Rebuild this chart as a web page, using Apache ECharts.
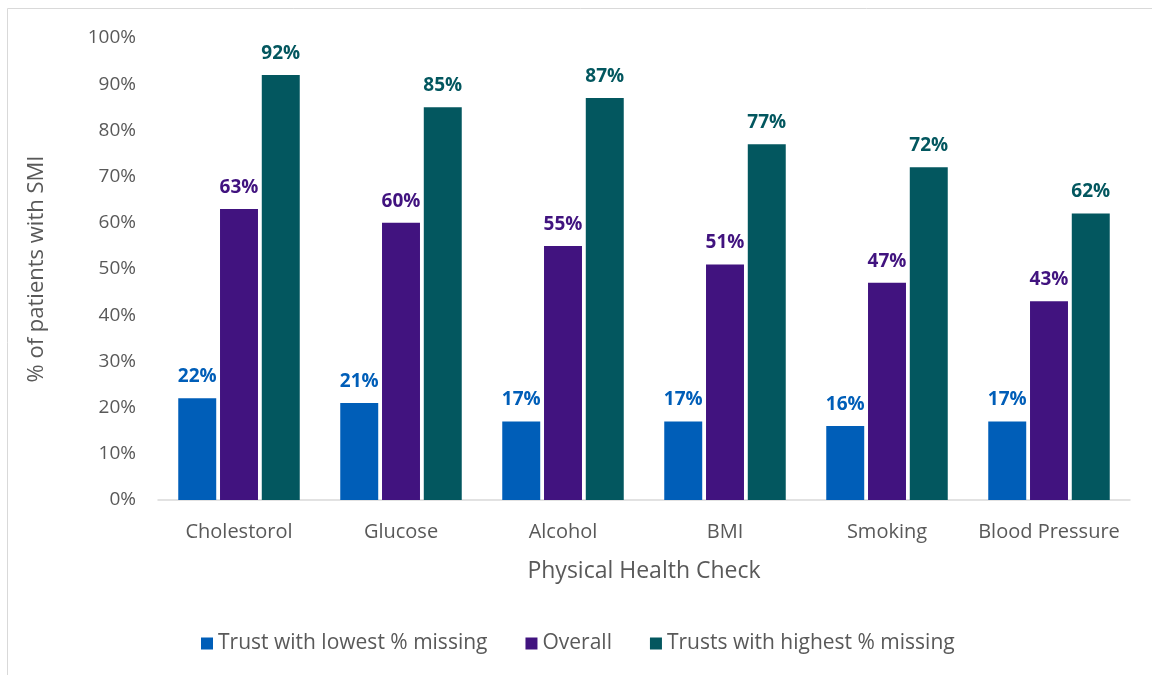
<!DOCTYPE html>
<html>
<head>
<meta charset="utf-8">
<script src="https://cdn.jsdelivr.net/npm/echarts@6/dist/echarts.min.js"></script>
<style>
    html, body { margin: 0; padding: 0; background: #fff; }
    #chart { width: 1152px; height: 675px; }
</style>
</head>
<body>
<div id="chart"></div>
<script>
    // data
    const categories = ['Cholestorol', 'Glucose', 'Alcohol', 'BMI', 'Smoking', 'Blood Pressure'];
    const lowest = [22, 21, 17, 17, 16, 17];
    const overall = [63, 60, 55, 51, 47, 43];
    const highest = [92, 85, 87, 77, 72, 62];
    const seriesNames = ['Trust with lowest % missing', 'Overall', 'Trusts with highest % missing'];
    const colors = ['#005EB8', '#41137F', '#03575F'];

    const font = '"Open Sans", sans-serif';
    const chart = echarts.init(document.getElementById('chart'));

    function makeBar(name, data, color) {
        return {
            name: name,
            type: 'bar',
            data: data,
            barGap: '10%',
            barCategoryGap: '25%',
            itemStyle: { color: color },
            label: {
                show: true,
                position: 'top',
                distance: 12,
                formatter: '{c}%',
                color: color,
                fontFamily: font,
                fontWeight: 'bold',
                fontSize: 19
            }
        };
    }

    const option = {
        animation: false,
        graphic: [{
            type: 'rect',
            shape: { x: 7.5, y: 8.5, width: 1200, height: 700 },
            style: { fill: 'none', stroke: '#d9d9d9', lineWidth: 1 },
            silent: true
        }],
        legend: {
            left: 196,
            top: 628,
            itemWidth: 12,
            itemHeight: 12,
            itemGap: 38,
            icon: 'rect',
            textStyle: { fontFamily: font, fontSize: 21, color: '#595959' },
            data: seriesNames
        },
        grid: { left: 158, right: 22, top: 38, bottom: 175 },
        xAxis: {
            type: 'category',
            data: categories,
            name: 'Physical Health Check',
            nameLocation: 'middle',
            nameGap: 60,
            nameTextStyle: { fontFamily: font, fontSize: 23, color: '#595959' },
            axisLine: { lineStyle: { color: '#d9d9d9', width: 1.5 } },
            axisTick: { show: false },
            axisLabel: { interval: 0, fontFamily: font, fontSize: 20, color: '#595959', margin: 22 }
        },
        yAxis: {
            type: 'value',
            min: 0,
            max: 100,
            interval: 10,
            name: '% of patients with SMI',
            nameLocation: 'middle',
            nameGap: 110,
            nameTextStyle: { fontFamily: font, fontSize: 22, color: '#595959' },
            splitLine: { show: false },
            axisLine: { show: false },
            axisTick: { show: false },
            axisLabel: { fontFamily: font, fontSize: 19, color: '#595959', margin: 22, formatter: '{value}%' }
        },
        series: [
            makeBar(seriesNames[0], lowest, colors[0]),
            makeBar(seriesNames[1], overall, colors[1]),
            makeBar(seriesNames[2], highest, colors[2])
        ]
    };

    chart.setOption(option);
</script>
</body>
</html>
